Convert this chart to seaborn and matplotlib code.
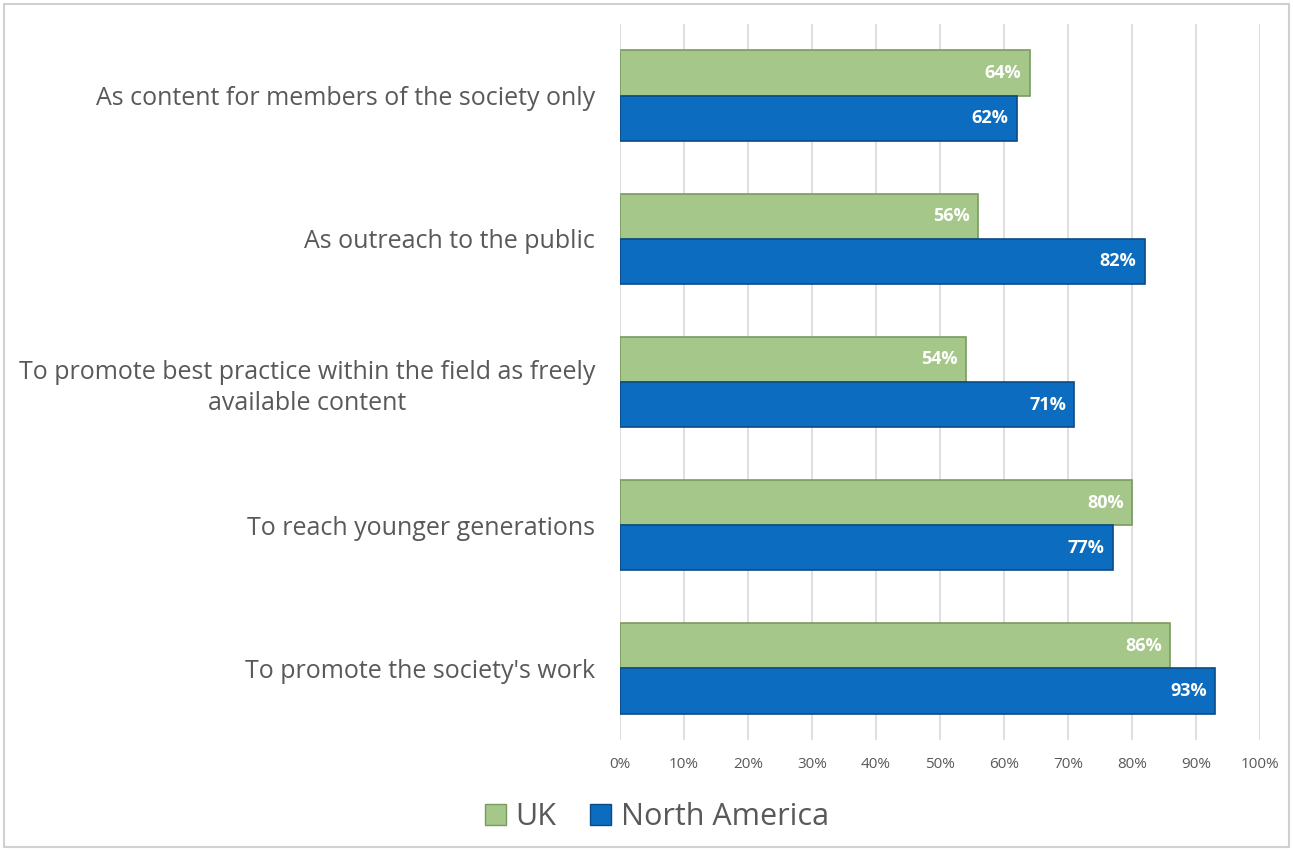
import pandas as pd
import seaborn as sns
import matplotlib.pyplot as plt
from matplotlib.patches import Rectangle
from matplotlib.ticker import PercentFormatter

# data
categories = [
    "As content for members of the society only",
    "As outreach to the public",
    "To promote best practice within the field as freely\navailable content",
    "To reach younger generations",
    "To promote the society's work",
]
uk = [64, 56, 54, 80, 86]
north_america = [62, 82, 71, 77, 93]
series = ["UK", "North America"]
colors = {"UK": "#a6c78a", "North America": "#0b6cc0"}
edges = {"UK": "#7a9a60", "North America": "#0a4a85"}

df = pd.DataFrame({
    "category": categories * 2,
    "value": uk + north_america,
    "region": ["UK"] * len(categories) + ["North America"] * len(categories),
})

sns.set_style("white")
plt.rcParams["font.family"] = ["Open Sans", "DejaVu Sans"]

fig = plt.figure(figsize=(12.93, 8.5), dpi=100)
ax = fig.add_axes([620 / 1293, 1 - 740 / 850, 640 / 1293, 716 / 850])

sns.barplot(data=df, y="category", x="value", hue="region", orient="h",
            hue_order=series, palette=colors, width=0.63, ax=ax,
            order=categories, legend=False, saturation=1)

for cont, name in zip(ax.containers, series):
    for p in cont:
        p.set_edgecolor(edges[name])
        p.set_linewidth(1.2)
    txts = ax.bar_label(cont, labels=[f"{int(v)}%" for v in cont.datavalues],
                        padding=-6, color="white", fontsize=13, fontweight="bold")
    for t in txts:
        t.set_ha("right")

ax.set_xlim(0, 100)
ax.set_xticks(range(0, 101, 10))
ax.xaxis.set_major_formatter(PercentFormatter(decimals=0))
ax.grid(axis="x", color="#d9d9d9", linewidth=1.2)
ax.set_axisbelow(True)
for s in ax.spines.values():
    s.set_visible(False)
ax.tick_params(axis="x", length=0, labelsize=11, labelcolor="#595959", pad=12)
ax.tick_params(axis="y", length=0, labelsize=18, labelcolor="#595959", pad=18)
for lbl in ax.get_yticklabels():
    lbl.set_multialignment("center")
    lbl.set_linespacing(1.3)
ax.set_xlabel("")
ax.set_ylabel("")

# legend
handles = [Rectangle((0, 0), 1, 1, facecolor=colors[n], edgecolor=edges[n]) for n in series]
fig.legend(handles, series, loc="center", bbox_to_anchor=(0.508, 1 - 817 / 850), ncol=2,
           frameon=False, fontsize=22, labelcolor="#595959", handlelength=0.7,
           handleheight=0.7, handletextpad=0.3, columnspacing=1.1)

# outer border
fig.patches.append(Rectangle((0.003, 0.003), 0.994, 0.992, transform=fig.transFigure,
                             fill=False, edgecolor="#d0d0d0", linewidth=1.5))

plt.savefig("out.png", dpi=100)
